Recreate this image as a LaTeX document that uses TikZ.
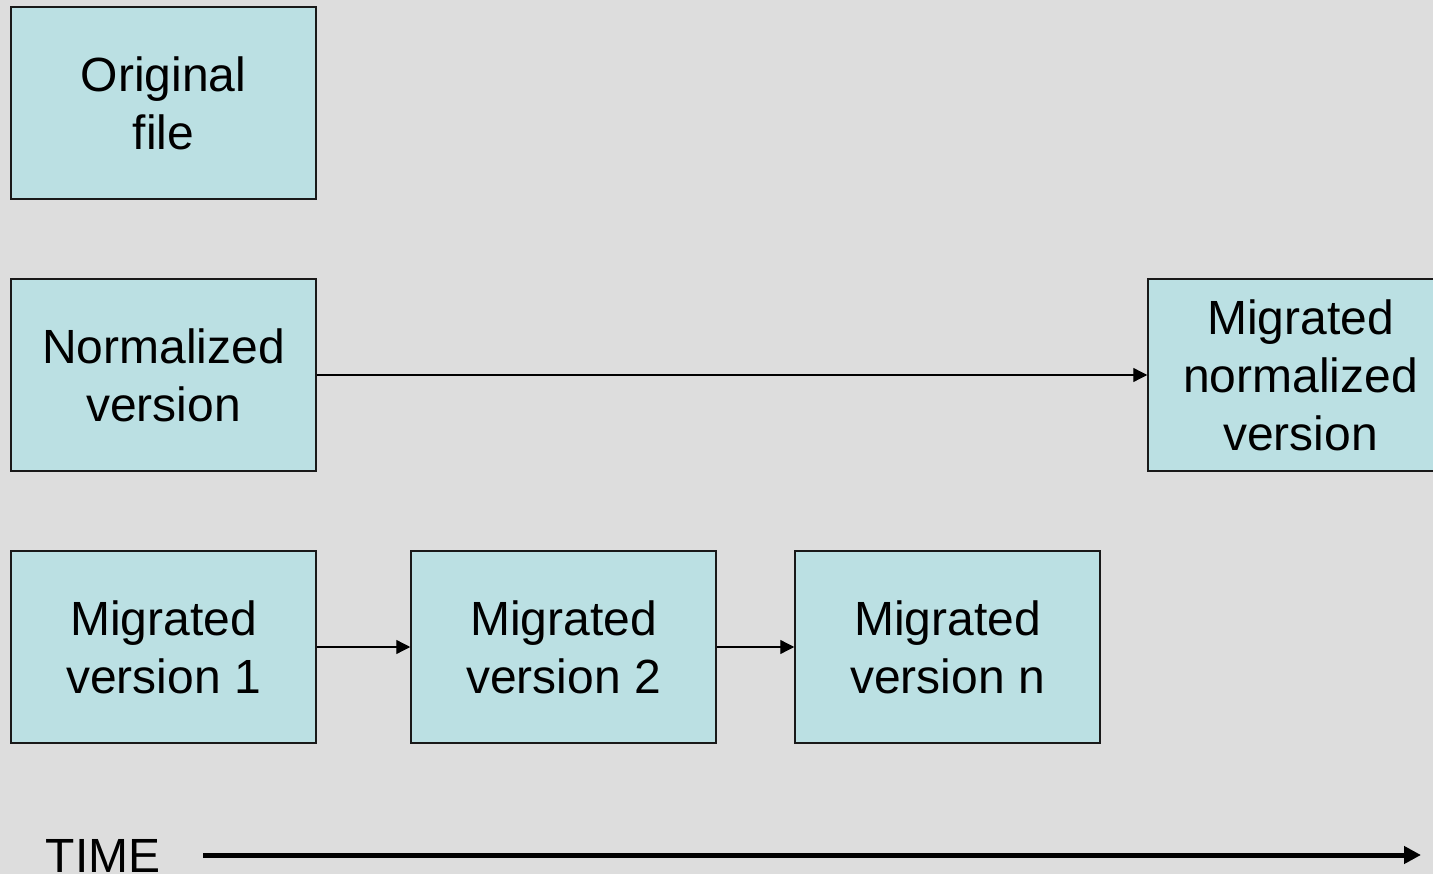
\documentclass[tikz,border=0pt]{standalone}
\usepackage{fontspec}
\setmainfont{Liberation Sans}
\usetikzlibrary{arrows.meta}
\definecolor{slidegray}{HTML}{DDDDDD}
\definecolor{boxcyan}{HTML}{BBE0E3}

\begin{document}
\begin{tikzpicture}[
  x=1pt, y=-1pt,
  version box/.style={
    draw=black!90, line width=1.5pt, fill=boxcyan,
    minimum width=305pt, minimum height=192pt,
    align=center, inner sep=0pt,
    font=\fontsize{48}{58}\selectfont
  },
  step arrow/.style={
    line width=1.3pt,
    -{Triangle[length=14pt,width=14pt]}
  },
  time arrow/.style={
    line width=5pt,
    -{Triangle[length=17pt,width=17pt]}
  }
]
\fill[slidegray] (0,0) rectangle (1433,874);
\clip (0,0) rectangle (1433,874);

\node[version box] (orig) at (163.5,103) {Original\\file};
\node[version box] (norm) at (163.5,375) {Normalized\\version};
\node[version box] (migNorm) at (1300.5,375) {Migrated\\normalized\\version};
\node[version box] (mig1) at (163.5,647) {Migrated\\version 1};
\node[version box] (mig2) at (563.5,647) {Migrated\\version 2};
\node[version box] (migN) at (947.5,647) {Migrated\\version n};

\draw[step arrow] (norm) -- (migNorm);
\draw[step arrow] (mig1) -- (mig2);
\draw[step arrow] (mig2) -- (migN);

% time line
\node[font=\fontsize{48}{58}\selectfont, inner sep=0pt] (time) at (103,856) {TIME};
\coordinate (timeStart) at (203,855);
\coordinate (timeEnd) at (1421,855);
\draw[time arrow] (timeStart) -- (timeEnd);
\end{tikzpicture}
\end{document}
